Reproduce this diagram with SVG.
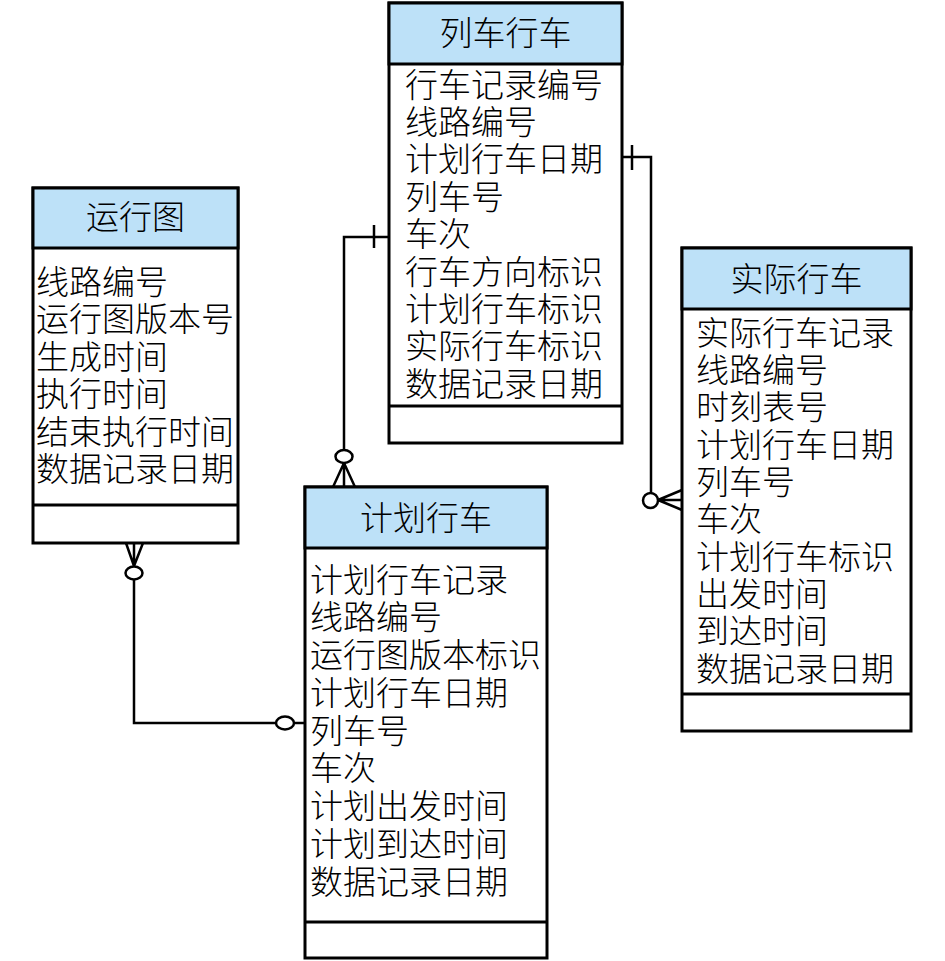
<svg xmlns="http://www.w3.org/2000/svg" width="945" height="961" viewBox="0 0 945 961">
<style>
.box{fill:#ffffff;stroke:#000;stroke-width:3}
.hdr{fill:#bde1f8;stroke:#000;stroke-width:3}
.sep{stroke:#000;stroke-width:3;fill:none}
.t{font-family:"Noto Sans CJK SC","Noto Sans CJK JP",sans-serif;font-size:33px;font-weight:300;fill:#000}
.h{text-anchor:middle}
.ln{fill:none;stroke:#000;stroke-width:2.5}
.cir{fill:#fff;stroke:#000;stroke-width:2.5}
</style>
<rect width="945" height="961" fill="#fff"/>
<g id="connectors">
  <path class="ln" d="M134,579 V723 H276"/>
  <path class="ln" d="M294,723 H305"/>
  <path class="ln" d="M126,543 L134,566 M134,543 V566 M143,543 L134,566"/>
  <ellipse class="cir" cx="134" cy="573" rx="8.5" ry="6.5"/>
  <ellipse class="cir" cx="285" cy="723" rx="9" ry="6.5"/>
  <path class="ln" d="M389,237 H344 V450"/>
  <path class="ln" d="M374,225 V248"/>
  <path class="ln" d="M333,487 L344,463 M344,463 V487 M355,487 L344,463"/>
  <ellipse class="cir" cx="344" cy="456.5" rx="8.5" ry="6.5"/>
  <path class="ln" d="M622,157 H651 V493"/>
  <path class="ln" d="M632,145 V170"/>
  <path class="ln" d="M682,490 L658,500 H682 M682,510 L658,500"/>
  <ellipse class="cir" cx="650.5" cy="500.5" rx="7.5" ry="7.5"/>
</g>
<g id="node-yunxingtu">
  <rect class="box" x="33" y="188" width="205" height="355"/>
  <rect class="hdr" x="33" y="188" width="205" height="60"/>
  <line class="sep" x1="33" y1="505" x2="238" y2="505"/>
  <text class="t h" x="135.5" y="229">运行图</text>
  <text class="t" x="36" y="293.5">线路编号</text>
  <text class="t" x="36" y="331">运行图版本号</text>
  <text class="t" x="36" y="368.5">生成时间</text>
  <text class="t" x="36" y="406">执行时间</text>
  <text class="t" x="36" y="443.5">结束执行时间</text>
  <text class="t" x="36" y="481">数据记录日期</text>
</g>
<g id="node-liechexingche">
  <rect class="box" x="389" y="3" width="233" height="440"/>
  <rect class="hdr" x="389" y="3" width="233" height="61"/>
  <line class="sep" x1="389" y1="406" x2="622" y2="406"/>
  <text class="t h" x="505.5" y="45">列车行车</text>
  <text class="t" x="405" y="96.5">行车记录编号</text>
  <text class="t" x="405" y="133.9">线路编号</text>
  <text class="t" x="405" y="171.3">计划行车日期</text>
  <text class="t" x="405" y="208.7">列车号</text>
  <text class="t" x="405" y="246.1">车次</text>
  <text class="t" x="405" y="283.5">行车方向标识</text>
  <text class="t" x="405" y="320.9">计划行车标识</text>
  <text class="t" x="405" y="358.3">实际行车标识</text>
  <text class="t" x="405" y="395.7">数据记录日期</text>
</g>
<g id="node-jihuaxingche">
  <rect class="box" x="305" y="487" width="242" height="471"/>
  <rect class="hdr" x="305" y="487" width="242" height="61"/>
  <line class="sep" x1="305" y1="922" x2="547" y2="922"/>
  <text class="t h" x="426" y="530">计划行车</text>
  <text class="t" x="310" y="591.5">计划行车记录</text>
  <text class="t" x="310" y="629.25">线路编号</text>
  <text class="t" x="310" y="667">运行图版本标识</text>
  <text class="t" x="310" y="704.75">计划行车日期</text>
  <text class="t" x="310" y="742.5">列车号</text>
  <text class="t" x="310" y="780.25">车次</text>
  <text class="t" x="310" y="818">计划出发时间</text>
  <text class="t" x="310" y="855.75">计划到达时间</text>
  <text class="t" x="310" y="893.5">数据记录日期</text>
</g>
<g id="node-shijixingche">
  <rect class="box" x="682" y="248" width="229" height="483"/>
  <rect class="hdr" x="682" y="248" width="229" height="61"/>
  <line class="sep" x1="682" y1="694" x2="911" y2="694"/>
  <text class="t h" x="796.5" y="291">实际行车</text>
  <text class="t" x="696" y="344.5">实际行车记录</text>
  <text class="t" x="696" y="381.8">线路编号</text>
  <text class="t" x="696" y="419.2">时刻表号</text>
  <text class="t" x="696" y="456.5">计划行车日期</text>
  <text class="t" x="696" y="493.8">列车号</text>
  <text class="t" x="696" y="531.2">车次</text>
  <text class="t" x="696" y="568.5">计划行车标识</text>
  <text class="t" x="696" y="605.8">出发时间</text>
  <text class="t" x="696" y="643.2">到达时间</text>
  <text class="t" x="696" y="680.5">数据记录日期</text>
</g>
</svg>
